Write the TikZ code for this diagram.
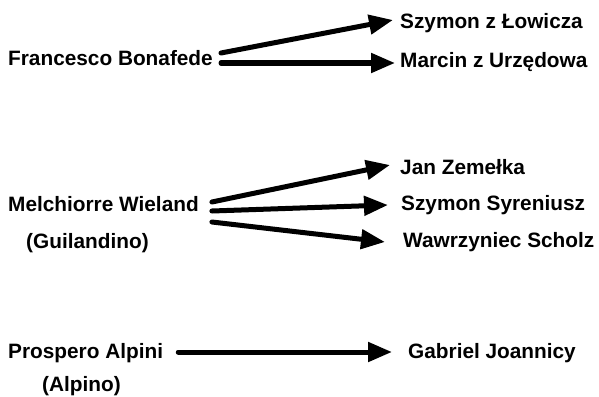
\documentclass[tikz,border=0pt]{standalone}
\usepackage{fontspec}
\setmainfont{Liberation Sans}
\usetikzlibrary{arrows.meta,calc}
\tikzset{
  person/.style={inner sep=0pt, anchor=base west, font=\fontsize{20.8}{25}\selectfont\bfseries},
  arr/.style={line width=5pt, -{Triangle[length=24pt,width=19pt]}, line cap=round}
}
\begin{document}
\begin{tikzpicture}[x=1pt,y=1pt]
\useasboundingbox (0,0) rectangle (599,-396);
% group 1
\node[person] (fb) at (8,-66) {Francesco Bonafede};
\node[person] (sl) at (400,-29) {Szymon z Łowicza};
\node[person] (mu) at (400,-67) {Marcin z Urzędowa};
% group 2
\node[person] (mw) at (8,-211) {Melchiorre Wieland};
\node[person] (gu) at (26,-248) {(Guilandino)};
\node[person] (jz) at (400,-174) {Jan Zemełka};
\node[person] (ss) at (401,-210) {Szymon Syreniusz};
\node[person] (ws) at (403,-247) {Wawrzyniec Scholz};
% group 3
\node[person] (pa) at (8,-358) {Prospero Alpini};
\node[person] (al) at (42,-391) {(Alpino)};
\node[person] (gj) at (408,-358) {Gabriel Joannicy};
% arrows
\draw[arr] ($(fb.base east)+(8,13)$) -- ($(sl.base west)+(-7,9)$);
\draw[arr] ($(fb.base east)+(8,3)$) -- ($(mu.base west)+(-5,4)$);
\draw[arr] ($(mw.base east)+(13,9)$) -- ($(jz.base west)+(-10,9)$);
\draw[arr] ($(mw.base east)+(13,0)$) -- ($(ss.base west)+(-13,5)$);
\draw[arr] ($(mw.base east)+(13,-11)$) -- ($(ws.base west)+(-18,5)$);
\draw[arr] ($(pa.base east)+(15,6)$) -- ($(gj.base west)+(-16,6)$);
\end{tikzpicture}
\end{document}
